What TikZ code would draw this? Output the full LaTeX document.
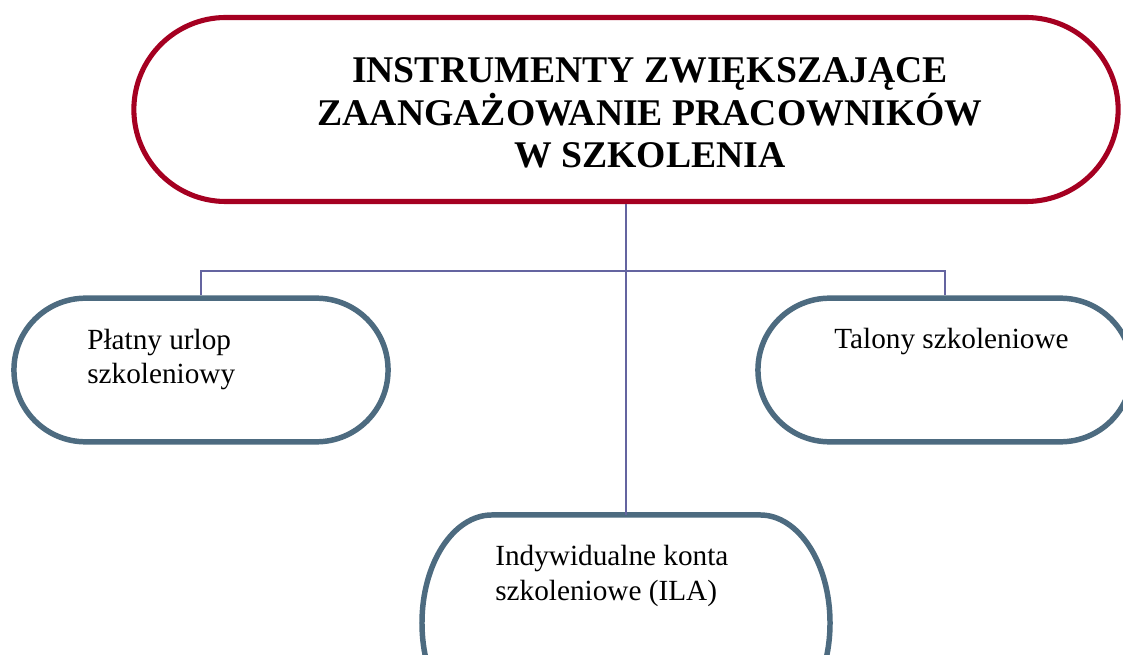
\documentclass[tikz,border=0pt]{standalone}
\usepackage{fontspec}
\setmainfont{Liberation Serif}
\definecolor{wine}{RGB}{165,0,33}
\definecolor{slate}{RGB}{77,107,128}
\definecolor{lilac}{RGB}{100,100,160}
\begin{document}
\begin{tikzpicture}[x=0.025cm,y=-0.025cm,
    topbox/.style={draw=wine,line width=3.6pt,rounded corners=2.3cm,
      minimum width=24.6cm,minimum height=4.6cm,inner sep=0},
    subbox/.style={draw=slate,line width=3.9pt,rounded corners=1.79cm,
      minimum width=9.35cm,minimum height=3.59cm,inner sep=0},
    subline/.style={draw=slate,line width=3.9pt},
    link/.style={draw=lilac,line width=1.3pt},
    toptxt/.style={font=\fontsize{26.8}{30.5}\selectfont\bfseries,align=center,inner sep=0},
    subtxt/.style={font=\fontsize{20.8}{24.8}\selectfont,align=left,inner sep=0}]
  \useasboundingbox (0,0) rectangle (1123,655);
  \clip (0,0) rectangle (1123,655);
  % boxes
  \node[topbox] (top) at (626,109.5) {};
  \node[subbox] (platny) at (201,370) {};
  \node[subbox] (talony) at (945,370) {};
  \node[inner sep=0,outer sep=0,minimum width=10.2cm,minimum height=5.4cm] (ila) at (626,623) {};
  \draw[subline] (ila.north) -- ++(134,0)
    arc[start angle=90,end angle=-90,x radius=1.75cm,y radius=2.7cm] -- ++(-268,0)
    arc[start angle=270,end angle=90,x radius=1.75cm,y radius=2.7cm] -- cycle;
  % texts (base = last line)
  \node[toptxt,anchor=base] (toptext) at (650,168)
    {INSTRUMENTY ZWIĘKSZAJĄCE\\ZAANGAŻOWANIE PRACOWNIKÓW\\W SZKOLENIA};
  \node[subtxt,anchor=base west] (platnytext) at (87,384) {Płatny urlop\\szkoleniowy};
  \node[subtxt,anchor=base west] (talonytext) at (834,349) {Talony szkoleniowe};
  \node[subtxt,anchor=base west] (ilatext) at (495,600) {Indywidualne konta\\szkoleniowe (ILA)};
  % connectors
  \coordinate (split) at (626,271);
  \draw[link] (top.south) -- (ila.north);
  \draw[link] (platny.north) |- (split) -| (talony.north);
\end{tikzpicture}
\end{document}
